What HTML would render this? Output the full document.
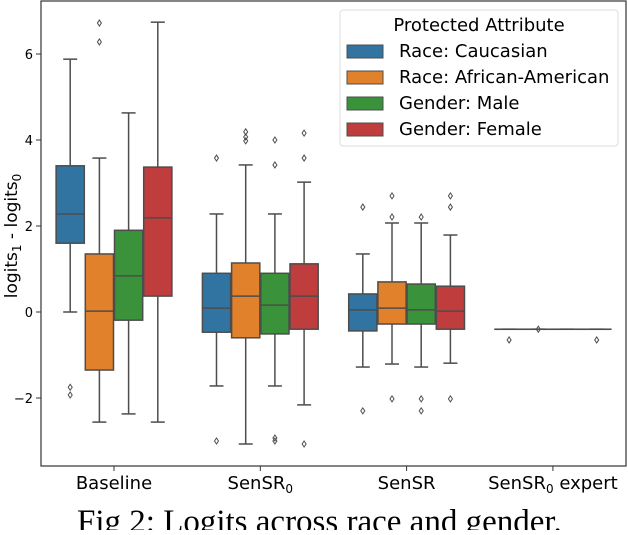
<!DOCTYPE html>
<html><head><meta charset="utf-8"><style>
body{margin:0;background:#fff;width:628px;height:530px;overflow:hidden}
text{font-family:"DejaVu Sans","Liberation Sans",sans-serif}
</style></head><body>
<svg id="chart" width="628" height="530" xmlns="http://www.w3.org/2000/svg">
<rect x="41" y="1" width="585" height="465" fill="#fff" stroke="#333" stroke-width="1.2"/>
<g id="marks"></g>
<g id="axes"></g>
<text x="17" y="236" font-size="17" text-anchor="middle" transform="rotate(-90 17 236)">logits<tspan font-size="12" dy="4">1</tspan><tspan dy="-4"> - logits</tspan><tspan font-size="12" dy="4">0</tspan></text>
<g>
<rect x="340" y="10" width="278" height="136" rx="3" fill="#fff" fill-opacity="0.8" stroke="#ddd"/>
<text x="479" y="31" font-size="18" text-anchor="middle">Protected Attribute</text>
<g id="legend-entries"></g>
</g>
<text x="77" y="532" font-size="33" style="font-family:'Liberation Serif',serif">Fig 2: Logits across race and gender.</text>
</svg>
<script>
const categories=["Baseline","SenSR0","SenSR","SenSR0 expert"];
const seriesNames=["Race: Caucasian","Race: African-American","Gender: Male","Gender: Female"];
const colors=["#3274a1","#e1812c","#3a923a","#c03d3e"];
const yTicks=[-2,0,2,4,6];
// [whislo,q1,med,q3,whishi] per category per series
const baselineStats=[[0,1.6,2.28,3.4,5.88],[-2.56,-1.35,0.02,1.35,3.58],[-2.37,-0.19,0.84,1.9,4.63],[-2.56,0.37,2.19,3.37,6.74]];
const sensr0Stats=[[-1.72,-0.47,0.09,0.9,2.28],[-3.07,-0.6,0.37,1.14,3.42],[-1.72,-0.51,0.16,0.9,2.28],[-2.16,-0.4,0.37,1.12,3.02]];
const sensrStats=[[-1.28,-0.44,0.05,0.42,1.35],[-1.21,-0.28,0.09,0.7,2.07],[-1.28,-0.28,0.05,0.65,2.07],[-1.19,-0.4,0.02,0.6,1.79]];
const expertStats=[[-0.4,-0.4,-0.4,-0.4,-0.4],[-0.4,-0.4,-0.4,-0.4,-0.4],[-0.4,-0.4,-0.4,-0.4,-0.4],[-0.4,-0.4,-0.4,-0.4,-0.4]];
const baselineFliers=[[-1.75,-1.93],[6.72,6.28],[],[]];
const sensr0Fliers=[[3.58,-3.0],[4.19,4.07,3.98],[4.0,3.42,-2.93,-3.0],[4.16,3.58,-3.07]];
const sensrFliers=[[2.44,-2.3],[2.7,2.21,-2.02],[2.21,-2.02,-2.3],[2.7,2.44,-2.02]];
const expertFliers=[[-0.65],[-0.4],[],[-0.65]];
const allStats=[baselineStats,sensr0Stats,sensrStats,expertStats];
const allFliers=[baselineFliers,sensr0Fliers,sensrFliers,expertFliers];
const NS="http://www.w3.org/2000/svg";
const y=v=>312-v*43;
const xc=i=>114+i*146.3;
const off=j=>(j-1.5)*29.2;
const bw=29.2;
const marks=document.getElementById('marks'),axes=document.getElementById('axes');
function mk(tag,attrs,parent){const e=document.createElementNS(NS,tag);for(const k in attrs)e.setAttribute(k,attrs[k]);parent.appendChild(e);return e;}
const LC="#4d4d4d";
allStats.forEach((grp,i)=>{grp.forEach((s,j)=>{
 const cx=xc(i)+off(j);
 const g=mk('g',{},marks);
 
 
 mk('line',{x1:cx,x2:cx,y1:y(s[0]),y2:y(s[1]),stroke:LC,'stroke-width':1.5},g);
 mk('line',{x1:cx,x2:cx,y1:y(s[3]),y2:y(s[4]),stroke:LC,'stroke-width':1.5},g);
 mk('line',{x1:cx-7,x2:cx+7,y1:y(s[0]),y2:y(s[0]),stroke:LC,'stroke-width':1.5},g);
 mk('line',{x1:cx-7,x2:cx+7,y1:y(s[4]),y2:y(s[4]),stroke:LC,'stroke-width':1.5},g);
 mk('rect',{x:cx-bw/2+0.5,y:y(s[3]),width:bw-1,height:Math.max(0.1,y(s[1])-y(s[3])),fill:colors[j],stroke:LC,'stroke-width':1.5},g);
 mk('line',{x1:cx-bw/2+0.5,x2:cx+bw/2-0.5,y1:y(s[2]),y2:y(s[2]),stroke:LC,'stroke-width':1.5},g);
 allFliers[i][j].forEach(v=>{const d=mk('path',{d:`M${cx},${y(v)-3}L${cx+2},${y(v)}L${cx},${y(v)+3}L${cx-2},${y(v)}Z`,fill:'none',stroke:LC,'stroke-width':1},g);
  
  });
});});
yTicks.forEach(t=>{mk('line',{x1:36,x2:41,y1:y(t),y2:y(t),stroke:'#333'},axes);
 const tx=mk('text',{x:33,y:y(t)+5,'font-size':13,'text-anchor':'end'},axes);tx.textContent=(t<0?'\u2212':'')+Math.abs(t);
 
 });
const xl=['Baseline','SenSR<tspan font-size="12" dy="4">0</tspan>','SenSR','SenSR<tspan font-size="12" dy="4">0</tspan><tspan dy="-4"> expert</tspan>'];
categories.forEach((c,i)=>{mk('line',{x1:xc(i),x2:xc(i),y1:466,y2:471,stroke:'#333'},axes);
 const tx=mk('text',{x:xc(i),y:489,'font-size':18,'text-anchor':'middle'},axes);tx.innerHTML=xl[i];
 
 });
const le=document.getElementById('legend-entries');
seriesNames.forEach((n,j)=>{const yy=51+j*26;
 const r=mk('rect',{x:347,y:yy-6,width:36,height:13,fill:colors[j],stroke:LC,'stroke-width':1},le);
 
 
 const t=mk('text',{x:399,y:yy+6,'font-size':18},le);t.textContent=n;
 
 });
</script>
</body></html>
